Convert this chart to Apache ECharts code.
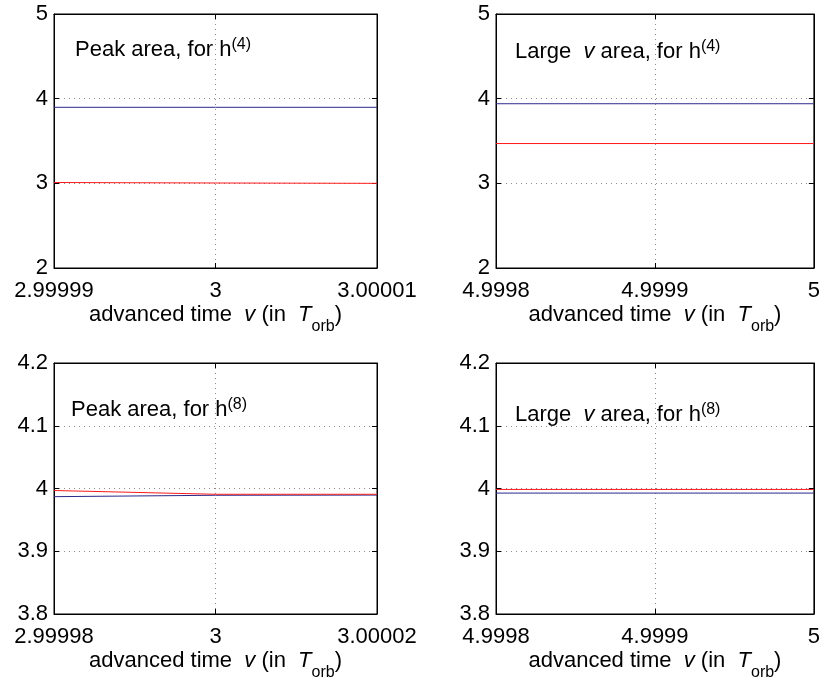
<!DOCTYPE html>
<html>
<head>
<meta charset="utf-8">
<script src="https://cdn.jsdelivr.net/npm/echarts@6/dist/echarts.min.js"></script>
<style>html,body{margin:0;padding:0;background:#fff}#c{width:823px;height:682px}</style>
</head>
<body>
<div id="c"></div>
<script>
// ---- data ----
const xTopLeft = [2.99999, 3, 3.00001];
const redTopLeft = [3.010, 3.004, 3.000];
const blueTopLeft = [3.898, 3.898, 3.898];

const xTopRight = [4.9998, 4.9999, 5];
const redTopRight = [3.47, 3.47, 3.47];
const blueTopRight = [3.94, 3.94, 3.94];

const xBotLeft = [2.99998, 3, 3.00002];
const redBotLeft = [3.9968, 3.9908, 3.9908];
const blueBotLeft = [3.9870, 3.9892, 3.9895];

const xBotRight = [4.9998, 4.9999, 5];
const redBotRight = [3.9985, 3.9985, 3.9985];
const blueBotRight = [3.9927, 3.9927, 3.9927];

const yTop = {min: 2, max: 5, interval: 1};
const yBot = {min: 3.8, max: 4.2, interval: 0.1};
const xTicksTopLeft = {min: 2.99999, max: 3.00001, interval: 0.00001};
const xTicksTopRight = {min: 4.9998, max: 5, interval: 0.0001};
const xTicksBotLeft = {min: 2.99998, max: 3.00002, interval: 0.00002};
const xTicksBotRight = {min: 4.9998, max: 5, interval: 0.0001};

const panelTitles = [
  '{n|Peak area, for h}{sup|(4)}',
  '{n|Large  }{i|v}{n| area, for h}{sup|(4)}',
  '{n|Peak area, for h}{sup|(8)}',
  '{n|Large  }{i|v}{n| area, for h}{sup|(8)}'
];
const xName = '{n|advanced time  }{i|v}{n| (in  }{i|T}{sub|orb}{n|)}';

// ---- styling ----
const FONT = 'Liberation Sans, Arial, Helvetica, sans-serif';
const FS = 22;
const RED = '#ff1a1a';
const BLUE = '#2a2a8c';

const grids = [
  {left: 54, top: 14, width: 323, height: 254},
  {left: 496, top: 14, width: 321, height: 254},
  {left: 54, top: 363, width: 323, height: 252},
  {left: 496, top: 363, width: 321, height: 252}
];
const xs = [xTicksTopLeft, xTicksTopRight, xTicksBotLeft, xTicksBotRight];
const ys = [yTop, yTop, yBot, yBot];
const xData = [xTopLeft, xTopRight, xBotLeft, xBotRight];
const reds = [redTopLeft, redTopRight, redBotLeft, redBotRight];
const blues = [blueTopLeft, blueTopRight, blueBotLeft, blueBotRight];

function fmt(v) { return String(Number(v.toFixed(6))); }

const nameRich = {
  n: {fontFamily: FONT, fontSize: FS, fontWeight: 'normal', color: '#000', verticalAlign: 'top', lineHeight: 24},
  i: {fontFamily: FONT, fontSize: FS, fontWeight: 'normal', fontStyle: 'italic', color: '#000', verticalAlign: 'top', lineHeight: 24},
  sub: {fontFamily: FONT, fontSize: 16, fontWeight: 'normal', color: '#000', verticalAlign: 'middle', lineHeight: 46}
};
const titleRich = {
  n: {fontFamily: FONT, fontSize: FS, fontWeight: 'normal', color: '#000', verticalAlign: 'bottom', lineHeight: 24},
  i: {fontFamily: FONT, fontSize: FS, fontWeight: 'normal', fontStyle: 'italic', color: '#000', verticalAlign: 'bottom', lineHeight: 24},
  sup: {fontFamily: FONT, fontSize: 16, fontWeight: 'normal', color: '#000', verticalAlign: 'top', lineHeight: 16}
};

const gridOpt = grids.map(g => Object.assign({show: true, borderColor: '#000', borderWidth: 1, backgroundColor: '#fff'}, g));

const dotted = {show: true, lineStyle: {color: '#8a8a8a', width: 1, type: [1, 4]}};
const xAxes = [], yAxes = [], series = [];
for (let k = 0; k < 4; k++) {
  xAxes.push({
    type: 'value', gridIndex: k, position: 'bottom',
    min: xs[k].min, max: xs[k].max, interval: xs[k].interval,
    axisLine: {show: true, onZero: false, lineStyle: {color: '#000', width: 1}},
    axisTick: {show: true, inside: true, length: 5, lineStyle: {color: '#000'}},
    axisLabel: {show: true, margin: 12, fontFamily: FONT, fontSize: FS, color: '#000', formatter: fmt},
    splitLine: dotted,
    name: xName, nameLocation: 'middle', nameGap: 36,
    nameTextStyle: {rich: nameRich}
  });
  yAxes.push({
    type: 'value', gridIndex: k, position: 'left',
    min: ys[k].min, max: ys[k].max, interval: ys[k].interval,
    axisLine: {show: true, onZero: false, lineStyle: {color: '#000', width: 1}},
    axisTick: {show: true, inside: true, length: 5, lineStyle: {color: '#000'}},
    axisLabel: {show: true, margin: 6, fontFamily: FONT, fontSize: FS, color: '#000', formatter: fmt},
    splitLine: dotted
  });
}
for (let k = 0; k < 4; k++) {
  xAxes.push({
    type: 'value', gridIndex: k, position: 'top',
    min: xs[k].min, max: xs[k].max, interval: xs[k].interval,
    axisLine: {show: true, onZero: false, lineStyle: {color: '#000', width: 1}},
    axisTick: {show: true, inside: true, length: 5, lineStyle: {color: '#000'}},
    axisLabel: {show: false}, splitLine: {show: false}
  });
  yAxes.push({
    type: 'value', gridIndex: k, position: 'right',
    min: ys[k].min, max: ys[k].max, interval: ys[k].interval,
    axisLine: {show: true, onZero: false, lineStyle: {color: '#000', width: 1}},
    axisTick: {show: true, inside: true, length: 5, lineStyle: {color: '#000'}},
    axisLabel: {show: false}, splitLine: {show: false}
  });
}
for (let k = 0; k < 4; k++) {
  series.push({
    type: 'line', xAxisIndex: k, yAxisIndex: k, showSymbol: false, animation: false,
    lineStyle: {color: BLUE, width: 1}, itemStyle: {color: BLUE},
    data: xData[k].map((x, i) => [x, blues[k][i]])
  });
  series.push({
    type: 'line', xAxisIndex: k, yAxisIndex: k, showSymbol: false, animation: false,
    lineStyle: {color: RED, width: 1}, itemStyle: {color: RED},
    data: xData[k].map((x, i) => [x, reds[k][i]])
  });
}

const titlePos = [
  {left: 75, top: 37},
  {left: 515, top: 39},
  {left: 71, top: 397},
  {left: 515, top: 402}
];
const titles = panelTitles.map((t, k) => ({
  text: t, left: titlePos[k].left, top: titlePos[k].top, padding: 0,
  textStyle: {fontWeight: 'normal', rich: titleRich}
}));

const chart = echarts.init(document.getElementById('c'), null, {renderer: 'canvas'});
chart.setOption({
  animation: false,
  backgroundColor: '#fff',
  title: titles,
  grid: gridOpt,
  xAxis: xAxes,
  yAxis: yAxes,
  series: series
});
</script>
</body>
</html>
